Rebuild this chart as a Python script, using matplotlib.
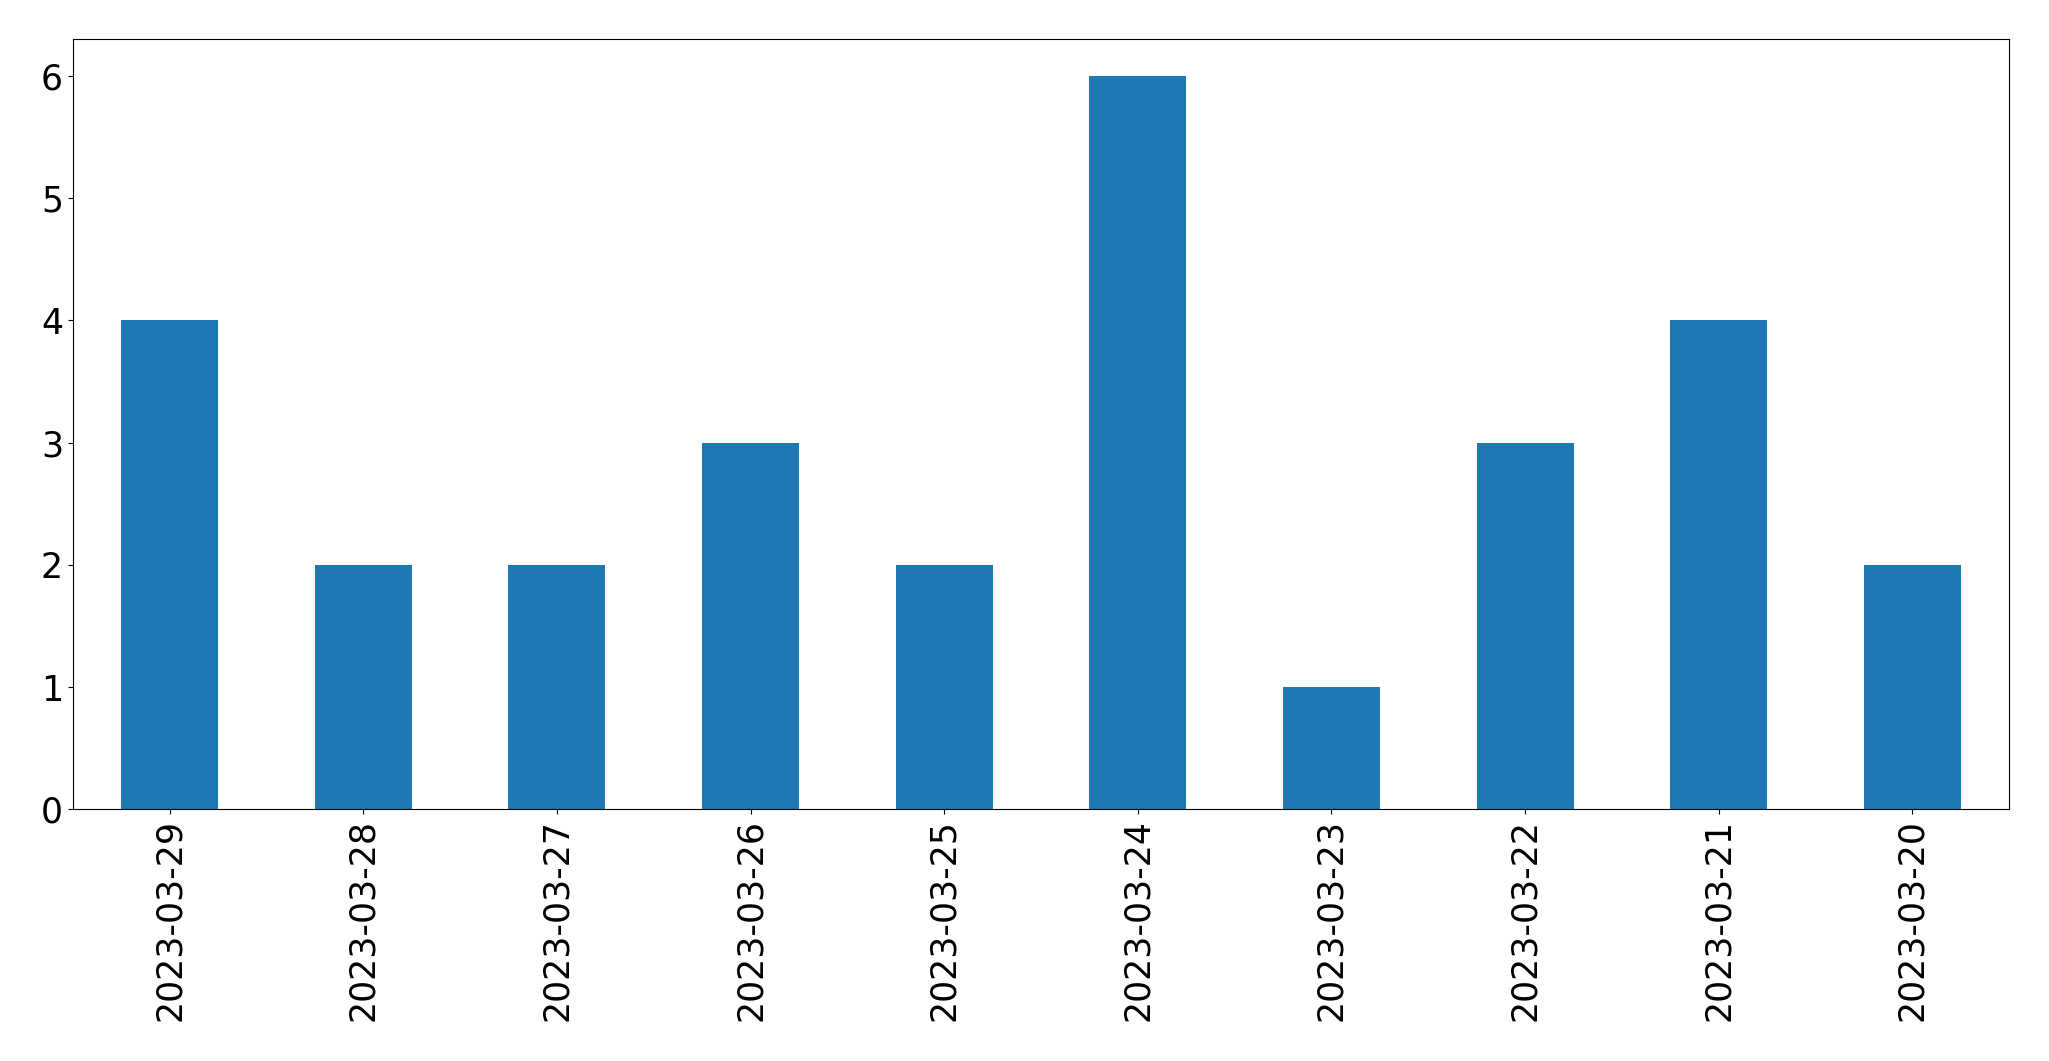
import matplotlib
matplotlib.use("Agg")
import matplotlib.pyplot as plt
import pandas as pd

dates = ["2023-03-29", "2023-03-28", "2023-03-27", "2023-03-26", "2023-03-25",
         "2023-03-24", "2023-03-23", "2023-03-22", "2023-03-21", "2023-03-20"]
counts = [4, 2, 2, 3, 2, 6, 1, 3, 4, 2]

s = pd.Series(counts, index=dates)

fig = plt.figure(figsize=(20.49, 10.61), dpi=100)
ax = fig.add_axes([0.0355, 0.2372, 0.9451, 0.7258])
s.plot(kind="bar", ax=ax, fontsize=25)

fig.savefig("out.png", dpi=100)
